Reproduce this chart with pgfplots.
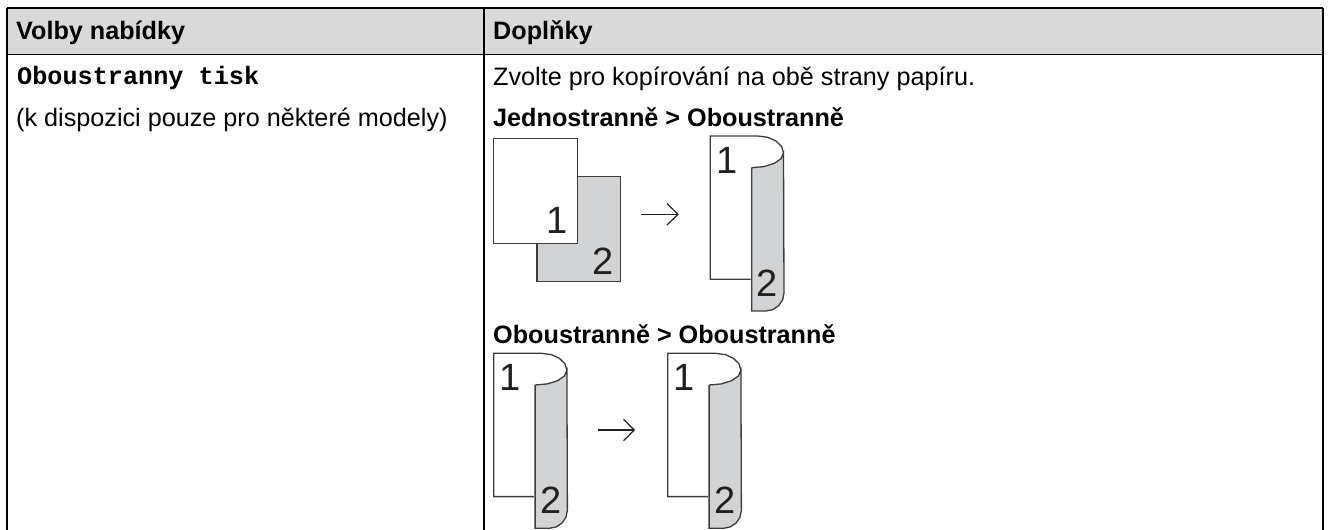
\documentclass[border=0pt]{standalone}
\usepackage{pgfplots}
\usepackage{pgfplotstable}
\usepackage{fontspec}
\pgfplotsset{compat=1.18}
\setmainfont{Liberation Sans}
\setmonofont{Liberation Mono}
\definecolor{hdr}{HTML}{D9D9D9}
\definecolor{pg}{HTML}{D1D3D4}
\definecolor{ink}{HTML}{231F20}
\definecolor{edge}{HTML}{3C3C3C}
\pgfplotstableread{
x y
751.7 167.7
751.7 311
766 311
772.9 309.6
778.7 305.7
782.6 299.9
784 293
783.5 153
781.1 158.6
774.2 163.4
763.9 166.6
751.7 167.7
}\foldgray
\pgfplotstableread{
x y
750.5 279.3
710.3 279.3
710.3 136
758 136
767.8 137.3
776 141
781.6 146.5
783.5 153
}\foldwhite
\newcommand{\foldshape}[2]{%
  \addplot[draw=edge,line width=1.3pt,fill=pg] table[x expr=\thisrow{x}+#1,y expr=\thisrow{y}+#2]{\foldgray};
  \addplot[draw=edge,line width=1.3pt] table[x expr=\thisrow{x}+#1,y expr=\thisrow{y}+#2]{\foldwhite};
}
\newcommand{\ttt}[3]{\node[anchor=base west,inner sep=0pt,text=black] at (axis cs:#1,#2) {#3};}
\newcommand{\dig}[3]{\node[anchor=center,inner sep=0pt,text=ink] at (axis cs:#1,#2) {\fontsize{38}{38}\selectfont #3};}
\begin{document}
\begin{tikzpicture}
\begin{axis}[
  scale only axis,width=1331pt,height=530pt,
  xmin=0,xmax=1331,ymin=0,ymax=530,y dir=reverse,
  hide axis,clip=true]
\path[use as bounding box] (axis cs:0,0) rectangle (axis cs:1331,530);
% header
\addplot[draw=none,fill=hdr] coordinates {(7,8)(1323,8)(1323,54)(7,54)} --cycle;
% table rules
\addplot[black,line width=1.3pt] coordinates {(7,8)(1323,8)};
\addplot[black,line width=1.3pt] coordinates {(7,54.5)(1323,54.5)};
\addplot[black,line width=1.3pt] coordinates {(7,8)(7,530)};
\addplot[black,line width=1.3pt] coordinates {(484,8)(484,530)};
\addplot[black,line width=1.3pt] coordinates {(1323,8)(1323,530)};
% sheets top
\addplot[draw=edge,line width=1.3pt,fill=pg] coordinates {(537,176.7)(620.3,176.7)(620.3,281.3)(537,281.3)} --cycle;
\addplot[draw=edge,line width=1.3pt,fill=white] coordinates {(493.7,138.3)(577.7,138.3)(577.7,243.3)(493.7,243.3)} --cycle;
\foldshape{0}{0}
\foldshape{-216.6}{217.3}
\foldshape{-42.6}{217.3}
% arrows
\addplot[ink,line width=1.2pt] coordinates {(641,214.3)(678,214.3)};
\addplot[ink,line width=1.2pt] coordinates {(667,203.5)(678,214.3)(667,225)};
\addplot[ink,line width=1.2pt] coordinates {(598.3,430)(634.3,430)};
\addplot[ink,line width=1.2pt] coordinates {(623.5,419.3)(634.3,430)(623.5,440.7)};
% digits
\dig{557.5}{220}{1}
\dig{602.7}{261.7}{2}
\dig{726.7}{160}{1}
\dig{767.3}{283.3}{2}
\dig{510}{377.3}{1}
\dig{550.7}{500.6}{2}
\dig{684.1}{377.3}{1}
\dig{724.7}{500.6}{2}
% text
\ttt{16}{39}{\fontsize{25.2}{25.2}\selectfont\bfseries Volby nabídky}
\ttt{493}{39}{\fontsize{25.2}{25.2}\selectfont\bfseries Doplňky}
\ttt{17}{84}{\fontsize{25.2}{25.2}\selectfont\ttfamily\bfseries Oboustranny tisk}
\ttt{16}{126}{\fontsize{25.2}{25.2}\selectfont (k dispozici pouze pro některé modely)}
\ttt{493}{85.5}{\fontsize{25.2}{25.2}\selectfont Zvolte pro kopírování na obě strany papíru.}
\ttt{493}{126.5}{\fontsize{25.2}{25.2}\selectfont\bfseries Jednostranně > Oboustranně}
\ttt{493}{343.3}{\fontsize{25.2}{25.2}\selectfont\bfseries Oboustranně > Oboustranně}
\end{axis}
\end{tikzpicture}
\end{document}
